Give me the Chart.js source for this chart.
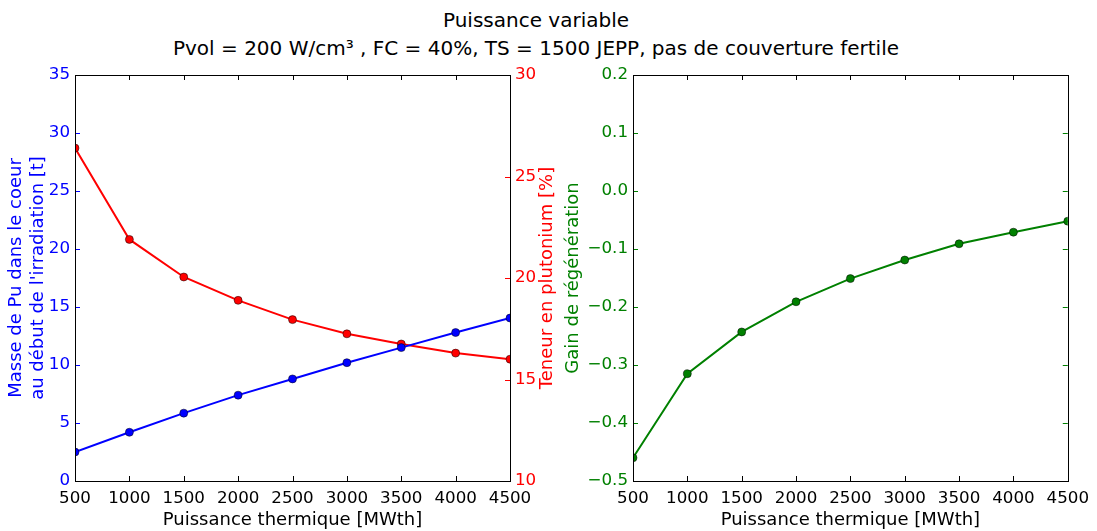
<!DOCTYPE html>
<html>
<head>
<meta charset="utf-8">
<script src="https://cdn.jsdelivr.net/npm/chart.js@4"></script>
<style>
  body { margin: 0; background: #fff; width: 1097px; height: 531px; overflow: hidden; position: relative; font-family: "DejaVu Sans", sans-serif; }
  #titre { position: absolute; left: 0; top: 6px; width: 1072px; text-align: center; font-size: 20px; line-height: 28px; color: #000; }
  #c1 { position: absolute; left: 0; top: 0; }
  #c2 { position: absolute; left: 560px; top: 0; }
</style>
</head>
<body>
<div id="titre">Puissance variable<br>Pvol = 200 W/cm³ , FC = 40%, TS = 1500 JEPP, pas de couverture fertile</div>
<canvas id="c1" width="570" height="531"></canvas>
<canvas id="c2" width="537" height="531"></canvas>
<script>
// données
var puissance = [500, 1000, 1500, 2000, 2500, 3000, 3500, 4000, 4500];
var massePu = [2.5, 4.2, 5.85, 7.4, 8.8, 10.2, 11.5, 12.8, 14.05];
var teneurPu = [26.4, 21.9, 20.05, 18.9, 17.95, 17.25, 16.75, 16.3, 16.0];
var gainRegen = [-0.46, -0.315, -0.243, -0.191, -0.151, -0.119, -0.091, -0.071, -0.052];

var police = { family: 'DejaVu Sans', size: 16.7 };
var policeTitre = { family: 'DejaVu Sans', size: 18 };

function pts(ys) {
    return puissance.map(function (x, i) { return { x: x, y: ys[i] }; });
}

function moins(s) {
    return s.replace('-', '\u2212');
}

// cadre noir + graduations vers l'intérieur (style matplotlib)
var cadre = {
    id: 'cadre',
    afterDraw: function (chart) {
        var ctx = chart.ctx, a = chart.chartArea, L = 5;
        ctx.save();
        ctx.lineWidth = 1;
        function trait(x1, y1, x2, y2, c) {
            ctx.strokeStyle = c;
            ctx.beginPath(); ctx.moveTo(x1, y1); ctx.lineTo(x2, y2); ctx.stroke();
        }
        var sx = chart.scales.x;
        sx.ticks.forEach(function (t) {
            var px = Math.round(sx.getPixelForValue(t.value)) + 0.5;
            trait(px, a.bottom, px, a.bottom - L, '#000');
            trait(px, a.top, px, a.top + L, '#000');
        });
        var ys = Object.values(chart.scales).filter(function (s) { return s.axis === 'y'; });
        ys.forEach(function (s) {
            var c = s.options.ticks.color;
            s.ticks.forEach(function (t) {
                var py = Math.round(s.getPixelForValue(t.value)) + 0.5;
                if (s.position === 'left' || ys.length === 1) trait(a.left, py, a.left + L, py, c);
                if (s.position === 'right' || ys.length === 1) trait(a.right, py, a.right - L, py, c);
            });
            // titre d'axe à droite écrit de bas en haut, comme matplotlib
            var tv = s.options.titreDroite;
            if (tv) {
                ctx.save();
                ctx.fillStyle = tv.color;
                ctx.font = '18px "DejaVu Sans"';
                ctx.textAlign = 'center';
                ctx.textBaseline = 'middle';
                ctx.translate(s.right - tv.decalage, (a.top + a.bottom) / 2);
                ctx.rotate(-Math.PI / 2);
                ctx.fillText(tv.text, 0, 0);
                ctx.restore();
            }
        });
        ctx.strokeStyle = '#000';
        ctx.strokeRect(Math.round(a.left) + 0.5, Math.round(a.top) + 0.5, Math.round(a.right - a.left), Math.round(a.bottom - a.top));
        ctx.restore();
    }
};

function axeX(h) {
    return {
        type: 'linear', position: 'bottom', min: 500, max: 4500,
        grid: { display: false, drawTicks: false }, border: { display: false },
        ticks: { stepSize: 500, color: '#000', font: police, padding: 8, maxRotation: 0,
            callback: function (v) { return String(v); } },
        title: { display: true, text: 'Puissance thermique [MWth]', color: '#000', font: policeTitre, padding: { top: 0, bottom: 0 } },
        afterFit: function (s) { s.height = h; }
    };
}

function serie(ys, couleur, axe) {
    return {
        data: pts(ys), yAxisID: axe,
        borderColor: couleur, backgroundColor: couleur, borderWidth: 2,
        pointRadius: 4, pointBackgroundColor: couleur, pointBorderColor: '#000', pointBorderWidth: 0.5,
        tension: 0, clip: 0
    };
}

new Chart(document.getElementById('c1'), {
    type: 'line',
    data: { datasets: [serie(massePu, '#0000ff', 'y'), serie(teneurPu, '#ff0000', 'y1')] },
    options: {
        responsive: false, animation: false,
        layout: { autoPadding: false, padding: { top: 75, left: 0, right: 0, bottom: 0 } },
        plugins: { legend: { display: false }, tooltip: { enabled: false } },
        scales: {
            x: axeX(50),
            y: {
                position: 'left', min: 0, max: 35,
                grid: { display: false, drawTicks: false }, border: { display: false },
                ticks: { stepSize: 5, color: '#0000ff', font: police, padding: 5 },
                title: { display: true, text: ['Masse de Pu dans le coeur', "au début de l'irradiation [t]"], color: '#0000ff', font: policeTitre, padding: { top: 6, bottom: 0 } },
                afterFit: function (s) { s.width = 75; }
            },
            y1: {
                position: 'right', min: 10, max: 30,
                grid: { display: false, drawTicks: false }, border: { display: false },
                ticks: { stepSize: 5, color: '#ff0000', font: police, padding: 5 },
                titreDroite: { text: 'Teneur en plutonium [%]', color: '#ff0000', decalage: 23 },
                afterFit: function (s) { s.width = 60; }
            }
        }
    },
    plugins: [cadre]
});

new Chart(document.getElementById('c2'), {
    type: 'line',
    data: { datasets: [serie(gainRegen, '#008000', 'y')] },
    options: {
        responsive: false, animation: false,
        layout: { autoPadding: false, padding: { top: 75, left: 0, right: 29, bottom: 0 } },
        plugins: { legend: { display: false }, tooltip: { enabled: false } },
        scales: {
            x: axeX(50),
            y: {
                position: 'left', min: -0.5, max: 0.2,
                grid: { display: false, drawTicks: false }, border: { display: false },
                ticks: { stepSize: 0.1, color: '#008000', font: police, padding: 5,
                    callback: function (v) { return Math.abs(v) < 1e-9 ? '0.0' : moins(v.toFixed(1)); } },
                title: { display: true, text: 'Gain de régénération', color: '#008000', font: policeTitre, padding: { top: 3, bottom: 0 } },
                afterFit: function (s) { s.width = 73; }
            }
        }
    },
    plugins: [cadre]
});
</script>
</body>
</html>
